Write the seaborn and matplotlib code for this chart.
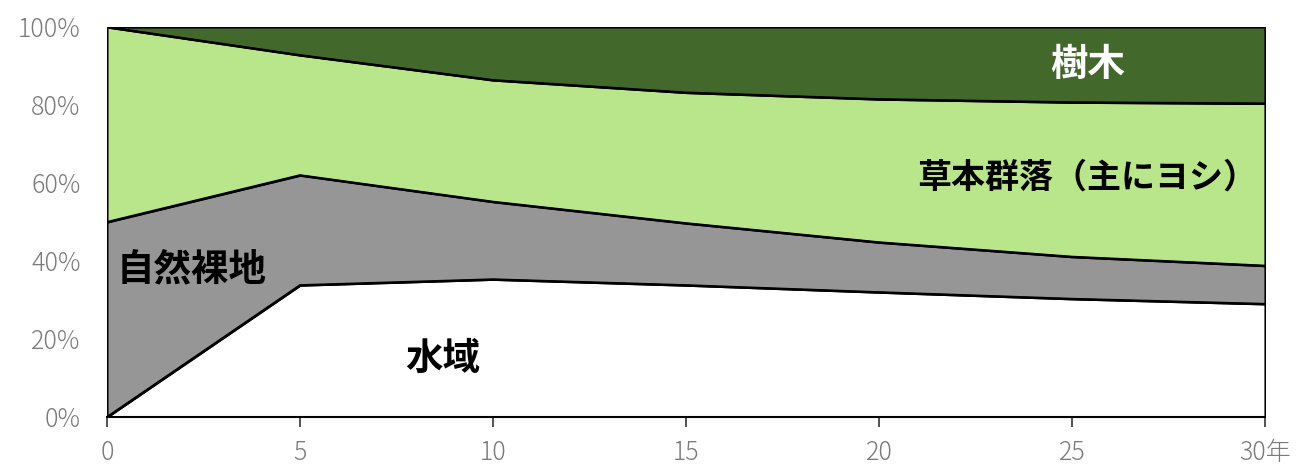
import numpy as np
import pandas as pd
import matplotlib as mpl
import matplotlib.pyplot as plt
import seaborn as sns

sns.set_style("white")
plt.rcParams['font.family'] = ['Noto Sans CJK JP', 'DejaVu Sans']

# data (percent of area)
years = [0, 5, 10, 15, 20, 25, 30]
water = [0, 33.8, 35.3, 33.8, 32.0, 30.3, 29.0]          # 水域
bare = [50.0, 28.2, 19.9, 15.9, 12.8, 10.8, 9.8]         # 自然裸地
grass = [50.0, 30.8, 31.2, 33.5, 36.7, 39.6, 41.6]       # 草本群落（主にヨシ）
trees = [0, 7.2, 13.6, 16.8, 18.5, 19.3, 19.6]           # 樹木

colors = ["#FFFFFF", "#969696", "#B9E68A", "#43682C"]

df = pd.DataFrame({"年": years, "水域": water, "自然裸地": bare,
                   "草本群落": grass, "樹木": trees})

fig = plt.figure(figsize=(13.08, 4.65), dpi=100)
ax = fig.add_axes([0.0818, 0.1032, 0.8853, 0.8387])

ax.stackplot(df["年"], df["水域"], df["自然裸地"], df["草本群落"], df["樹木"],
             colors=colors, edgecolor="black", linewidth=1.5)

# boundary lines on top (seaborn)
cum = df[["水域", "自然裸地", "草本群落", "樹木"]].cumsum(axis=1)
for col in ["水域", "自然裸地", "草本群落"]:
    sns.lineplot(x=df["年"], y=cum[col], ax=ax, color="black", linewidth=1.5)

ax.set_xlim(0, 30)
ax.set_ylim(0, 100)
ax.set_xlabel("")
ax.set_ylabel("")

ax.set_xticks(range(0, 31, 5))
ax.set_xticklabels(["0", "5", "10", "15", "20", "25", "30年"])
ax.set_yticks(range(0, 101, 20))
ax.set_yticklabels([f"{v}%" for v in range(0, 101, 20)])
ax.tick_params(axis="x", length=7, width=1.2, color="#333333", direction="out",
               labelsize=18, labelcolor="#7a7a7a", pad=9, bottom=True)
ax.tick_params(axis="y", length=0, labelsize=18, labelcolor="#7a7a7a", pad=19)
for lab in ax.get_xticklabels() + ax.get_yticklabels():
    lab.set_fontweight("light")

for s in ["top", "right", "left"]:
    ax.spines[s].set_visible(False)
ax.spines["bottom"].set_color("black")
ax.spines["bottom"].set_linewidth(1.5)

ax.text(25.4, 90.5, "樹木", color="white", fontsize=27, fontweight="bold",
        ha="center", va="center")
ax.text(25.4, 61.5, "草本群落（主にヨシ）", color="black", fontsize=24.5,
        fontweight="bold", ha="center", va="center")
ax.text(2.2, 38.0, "自然裸地", color="black", fontsize=27, fontweight="bold",
        ha="center", va="center")
ax.text(8.7, 15.0, "水域", color="black", fontsize=27, fontweight="bold",
        ha="center", va="center")

fig.savefig("out.png", dpi=100)
